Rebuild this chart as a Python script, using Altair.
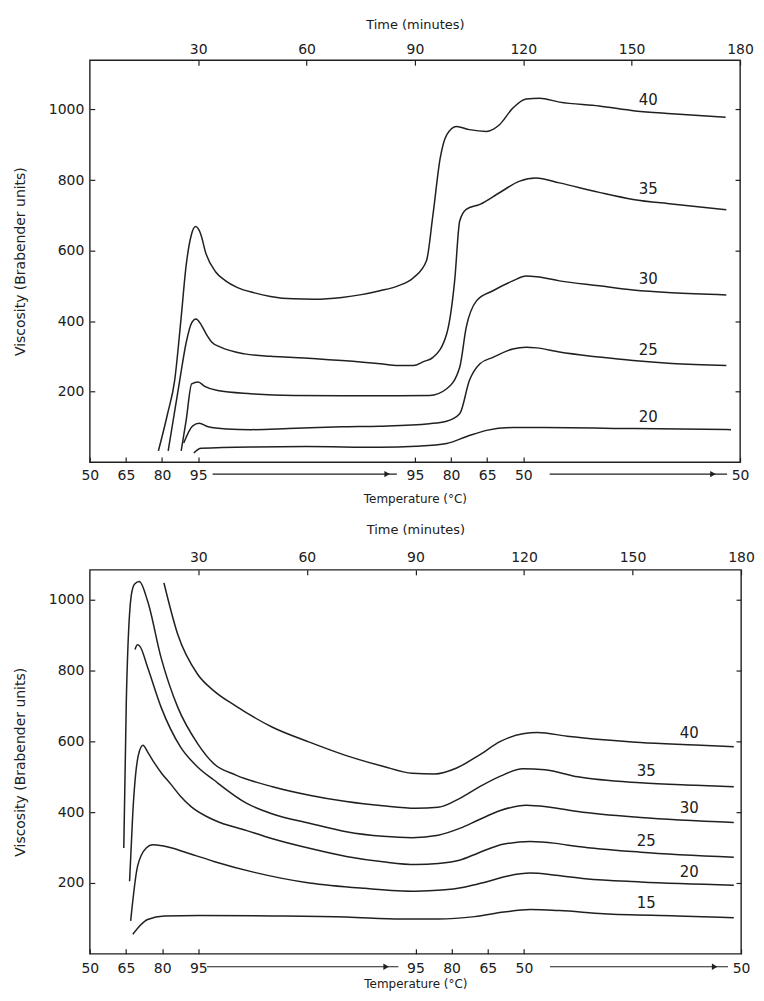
import altair as alt
import numpy as np
import pandas as pd

FONT = "DejaVu Sans"
INK = "#202020"

# ---------------- shared axis values ----------------
time_ticks = [30, 60, 90, 120, 150, 180]
visc_ticks = [200, 400, 600, 800, 1000]
temp_tick_t = [0, 10, 20, 30, 90, 100, 110, 120, 180]
temp_tick_lbl = ["50", "65", "80", "95", "95", "80", "65", "50", "50"]

# ---------------- top panel (time in minutes, viscosity in BU) ----------------
top40_t = [19.0, 21.6, 23.5, 25.2, 26.7, 28.0, 29.3, 30.6, 32.2, 34.8, 37.5, 40.9, 45.6, 50.0, 56.3, 62.1, 69.8, 75.2, 80.3, 85.3, 89.6, 93.2, 95.0, 97.0, 98.8, 101.5, 105.1, 109.8, 113.4, 117.1, 120.8, 124.5, 130.0, 141.0, 151.0, 161.1, 176.0]
top40_v = [32, 140, 232, 400, 560, 640, 668, 650, 590, 540, 515, 495, 480, 470, 463, 462, 467, 475, 486, 500, 523, 571, 702, 862, 928, 952, 943, 938, 957, 1004, 1030, 1032, 1021, 1010, 996, 988, 978]

top35_t = [21.7, 24.9, 26.7, 28.2, 29.4, 30.8, 32.2, 33.8, 36.2, 42.9, 50.0, 56.3, 69.8, 80.4, 85.3, 89.6, 92.4, 95.0, 98.8, 101.0, 102.4, 104.2, 108.0, 113.4, 119.0, 123.5, 130.0, 141.0, 150.4, 161.1, 176.2]
top35_v = [32, 232, 340, 395, 406, 390, 364, 340, 326, 307, 300, 297, 288, 279, 274, 274, 285, 297, 364, 514, 684, 717, 731, 764, 797, 806, 792, 765, 745, 732, 716]

top30_t = [25.3, 26.7, 28.2, 30.0, 31.8, 35.4, 44.6, 56.3, 70.2, 80.3, 94.1, 98.8, 102.4, 104.2, 107.1, 111.6, 117.1, 120.8, 123.7, 130.0, 141.0, 150.4, 161.1, 176.2]
top30_v = [32, 120, 222, 227, 215, 203, 194, 189, 188, 188, 189, 208, 269, 382, 458, 486, 514, 528, 526, 514, 500, 488, 480, 474]

top25_t = [26.0, 28.5, 30.3, 32.8, 37.9, 44.6, 55.0, 69.8, 80.3, 94.0, 98.5, 102.4, 105.1, 108.0, 111.6, 117.1, 120.8, 123.7, 130.0, 141.0, 150.4, 161.1, 176.2]
top25_v = [54, 103, 110, 100, 94, 92, 95, 100, 102, 109, 115, 137, 232, 279, 297, 321, 326, 324, 312, 298, 288, 280, 274]

top20_t = [28.8, 30.8, 44.6, 60.0, 80.3, 90.4, 98.8, 104.2, 109.8, 117.1, 125.8, 151.0, 177.5]
top20_v = [26, 39, 43, 44, 42, 45, 53, 72, 90, 98, 98, 95, 92]

top_names = ["40", "35", "30", "25", "20"]
top_label_t = [154.6, 154.6, 154.6, 154.6, 154.6]
top_arrow_start = [34.0, 127.3]
top_arrow_end = [85.0, 176.4]
top_arrow_head = [82.3, 172.5]

# ---------------- bottom panel ----------------
bot40_t = [20.5, 24.3, 29.8, 34.3, 40.4, 50.5, 60.7, 70.9, 81.0, 89.1, 95.3, 101.4, 107.4, 113.5, 119.7, 123.8, 131.9, 142.0, 152.2, 167.4, 178.0]
bot40_v = [1048, 903, 790, 743, 700, 640, 598, 560, 530, 510, 508, 525, 560, 600, 622, 625, 615, 605, 597, 590, 585]

bot35_t = [9.4, 10.1, 11.5, 12.4, 13.7, 16.0, 19.7, 24.3, 29.8, 34.3, 40.4, 50.5, 60.7, 70.9, 81.0, 90.1, 96.3, 102.4, 107.4, 113.5, 119.7, 125.8, 134.9, 152.2, 167.4, 178.0]
bot35_v = [299, 716, 1015, 1045, 1052, 996, 837, 697, 594, 537, 505, 472, 448, 430, 418, 411, 414, 440, 470, 502, 523, 520, 500, 483, 476, 472]

bot30_t = [12.5, 13.2, 13.9, 16.0, 19.7, 25.1, 29.8, 34.3, 43.4, 50.5, 60.7, 70.9, 81.0, 89.1, 96.3, 102.4, 107.4, 113.5, 120.7, 126.8, 134.9, 152.2, 178.0]
bot30_v = [860, 873, 868, 809, 697, 584, 528, 491, 425, 395, 369, 345, 332, 328, 335, 355, 378, 405, 420, 415, 402, 385, 371]

bot25_t = [11.0, 11.9, 13.4, 14.7, 16.0, 17.8, 20.0, 22.5, 25.0, 28.0, 34.3, 43.4, 50.5, 60.7, 70.9, 81.0, 90.1, 96.3, 102.4, 107.4, 114.5, 121.7, 128.8, 134.9, 152.2, 178.0]
bot25_v = [205, 400, 560, 589, 570, 540, 508, 478, 446, 416, 378, 348, 325, 298, 275, 260, 252, 255, 265, 285, 310, 317, 312, 303, 287, 273]

bot20_t = [11.3, 13.2, 15.6, 17.4, 20.1, 27.0, 34.3, 45.5, 60.7, 75.9, 90.1, 97.3, 103.4, 109.5, 115.6, 121.7, 128.8, 137.0, 152.2, 178.0]
bot20_v = [93, 247, 299, 308, 305, 285, 261, 230, 200, 185, 177, 180, 188, 203, 220, 228, 222, 212, 203, 194]

bot15_t = [11.9, 13.9, 16.0, 20.6, 30.2, 50.5, 70.9, 86.1, 96.3, 106.4, 114.5, 121.7, 129.8, 142.0, 162.3, 178.0]
bot15_v = [55, 80, 97, 107, 108, 107, 104, 98, 98, 105, 118, 125, 122, 113, 107, 102]

bot_names = ["40", "35", "30", "25", "20", "15"]
bot_label_t = [165.7, 153.8, 165.7, 153.8, 165.7, 153.8]
bot_arrow_start = [32.4, 127.2]
bot_arrow_end = [85.3, 176.4]
bot_arrow_head = [81.9, 172.7]


def build_frames(names, ts, vs, label_t, a_start, a_end, a_head):
    rows = []
    lab = []
    for name, t, v, lt in zip(names, ts, vs, label_t):
        for ti, vi in zip(t, v):
            rows.append({"series": name, "t": ti, "v": vi})
        lab.append({"series": name, "t": lt, "v": float(np.interp(lt, t, v))})
    arrows = pd.DataFrame({"start": a_start, "end": a_end, "head": a_head})
    return pd.DataFrame(rows), pd.DataFrame(lab), arrows


top_lines, top_labels, top_arrows = build_frames(
    top_names,
    [top40_t, top35_t, top30_t, top25_t, top20_t],
    [top40_v, top35_v, top30_v, top25_v, top20_v],
    top_label_t, top_arrow_start, top_arrow_end, top_arrow_head)

bot_lines, bot_labels, bot_arrows = build_frames(
    bot_names,
    [bot40_t, bot35_t, bot30_t, bot25_t, bot20_t, bot15_t],
    [bot40_v, bot35_v, bot30_v, bot25_v, bot20_v, bot15_v],
    bot_label_t, bot_arrow_start, bot_arrow_end, bot_arrow_head)

label_expr = ("[" + ",".join("'" + s + "'" for s in temp_tick_lbl) + "][indexof(["
              + ",".join(str(v) for v in temp_tick_t) + "], datum.value)]")


def make_panel(lines_df, labels_df, arrows_df, W, H, ymax, arrow_y,
               top_lp, top_tp, bot_lp, bot_tp, y_tp):
    xs = alt.Scale(domain=[0, 180], nice=False, zero=False)
    ys = alt.Scale(domain=[0, ymax], nice=False, zero=False)
    common = dict(domain=False, grid=False, ticks=True, tickColor=INK, tickWidth=1.2,
                  tickSize=5, offset=-5, labelFont=FONT, labelColor=INK,
                  titleFont=FONT, titleColor=INK, titleFontWeight="normal",
                  labelFlush=False, labelOverlap=False)
    ax_time = alt.Axis(orient="top", values=time_ticks, title="Time (minutes)",
                       labelFontSize=14, titleFontSize=13,
                       labelPadding=top_lp, titlePadding=top_tp, **common)
    ax_temp = alt.Axis(orient="bottom", values=temp_tick_t, labelExpr=label_expr,
                       title="Temperature (°C)", labelFontSize=14, titleFontSize=12,
                       labelPadding=bot_lp, titlePadding=bot_tp, **common)
    ax_left = alt.Axis(orient="left", values=visc_ticks, format="d",
                       title="Viscosity (Brabender units)",
                       labelFontSize=14, titleFontSize=14, labelPadding=6,
                       titlePadding=y_tp, **common)
    ax_right = alt.Axis(orient="right", values=visc_ticks, labels=False, title="", **common)

    lines = alt.Chart(lines_df).mark_line(
        interpolate="monotone", color=INK, strokeWidth=1.5
    ).encode(
        x=alt.X("t:Q", scale=xs, axis=ax_time),
        y=alt.Y("v:Q", scale=ys, axis=ax_left),
        detail="series:N",
    )
    arrows = alt.Chart(arrows_df).mark_rule(color=INK, strokeWidth=1.2).encode(
        x=alt.X("start:Q", scale=xs, axis=ax_temp),
        x2="end:Q",
        y=alt.value(arrow_y),
    )
    heads = alt.Chart(arrows_df).mark_point(
        shape="triangle-right", filled=True, size=40, color=INK, opacity=1
    ).encode(
        x=alt.X("head:Q", scale=xs, axis=None),
        y=alt.value(arrow_y),
    )
    labels = alt.Chart(labels_df).mark_text(
        font=FONT, fontSize=15, color=INK, baseline="bottom", dy=-4
    ).encode(
        x=alt.X("t:Q", scale=xs, axis=None),
        y=alt.Y("v:Q", scale=ys, axis=ax_right),
        text="series:N",
    )
    return alt.layer(lines, arrows, heads, labels).resolve_axis(
        x="independent", y="independent"
    ).properties(width=W, height=H)


top = make_panel(top_lines, top_labels, top_arrows, 652, 403, 1140, 415,
                 top_lp=4, top_tp=11, bot_lp=6, bot_tp=12, y_tp=21)
bottom = make_panel(bot_lines, bot_labels, bot_arrows, 653, 385, 1085, 398,
                    top_lp=5, top_tp=14, bot_lp=8, bot_tp=3, y_tp=21)

chart = alt.ConcatChart(
    concat=[top, bottom], columns=1, spacing=17
).properties(
    padding={"left": 4, "top": 8, "right": 0, "bottom": 0},
    background="white",
).configure_view(stroke=INK, strokeWidth=1.4)

chart.save("out.html", embed_options={"renderer": "svg", "actions": False})
